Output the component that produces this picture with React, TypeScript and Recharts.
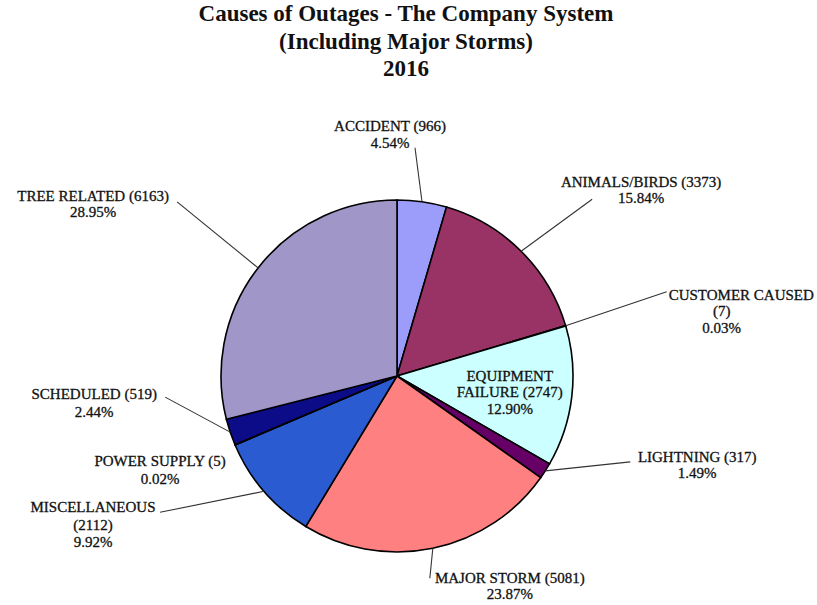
import React from 'react';
import { PieChart, Pie, Cell } from 'recharts';

// ---- data ----
const causes = [
  'ACCIDENT',
  'ANIMALS/BIRDS',
  'CUSTOMER CAUSED',
  'EQUIPMENT FAILURE',
  'LIGHTNING',
  'MAJOR STORM',
  'MISCELLANEOUS',
  'POWER SUPPLY',
  'SCHEDULED',
  'TREE RELATED',
];
const outageCounts = [966, 3373, 7, 2747, 317, 5081, 2112, 5, 519, 6163];
const titleLines = ['Causes of Outages - The Company System', '(Including Major Storms)', '2016'];

// ---- styles ----
const sliceColors = [
  '#9c9cfa', '#993366', '#ffffcc', '#ccffff', '#660066',
  '#ff8080', '#2a5bd0', '#ccccff', '#0c0c88', '#a096c8',
];

// how each label's text is broken into lines
// 'inline': NAME (value) / pct ; 'valueLine': NAME / (value) / pct ; 'splitFirst': WORD1 / REST (value) / pct
const wrapMode = ['inline', 'inline', 'valueLine', 'splitFirst', 'inline', 'inline', 'valueLine', 'inline', 'inline', 'inline'];

// label layout relative to the slice's outer edge point at its mid angle
type Layout = { leader: [number, number] | null; text: [number, number]; gap: number; firstStartDx?: number };
const labelLayout: Layout[] = [
  { leader: [-7, -54], text: [-32, -71], gap: 17 },
  { leader: [71, -52], text: [120, -64], gap: 16 },
  { leader: [101, -34], text: [156, -26], gap: 16.5, firstStartDx: 103 },
  { leader: null, text: [-62, -16], gap: 16.5 },
  { leader: [85, -9], text: [152, -9], gap: 16 },
  { leader: [-3, 30], text: [77, 35], gap: 16 },
  { leader: [-104, 21], text: [-171, 21], gap: 17.5 },
  { leader: null, text: [-75, 21], gap: 18 },
  { leader: [-65, -35], text: [-136, -33], gap: 18 },
  { leader: [-81, -66], text: [-165, -67], gap: 16 },
];

const total = outageCounts.reduce((a, b) => a + b, 0);
const data = causes.map((name, i) => ({ name, value: outageCounts[i] }));

const FONT = '"Liberation Serif", "Times New Roman", serif';
const RAD = Math.PI / 180;

function labelLines(i: number): string[] {
  const name = causes[i];
  const v = outageCounts[i];
  const pct = ((v / total) * 100).toFixed(2) + '%';
  const mode = wrapMode[i];
  if (mode === 'valueLine') return [name, `(${v})`, pct];
  if (mode === 'splitFirst') {
    const [first, ...rest] = name.split(' ');
    return [first, `${rest.join(' ')} (${v})`, pct];
  }
  return [`${name} (${v})`, pct];
}

const renderLabel = (props: any) => {
  const { cx, cy, midAngle, outerRadius, index } = props;
  const ex = cx + outerRadius * Math.cos(-midAngle * RAD);
  const ey = cy + outerRadius * Math.sin(-midAngle * RAD);
  const lay = labelLayout[index];
  const lines = labelLines(index);
  const tx = ex + lay.text[0];
  const ty = ey + lay.text[1];
  return (
    <g key={`lbl-${index}`}>
      {lay.leader && (
        <line
          x1={ex}
          y1={ey}
          x2={ex + lay.leader[0]}
          y2={ey + lay.leader[1]}
          stroke="#333"
          strokeWidth={1.1}
        />
      )}
      {lines.map((ln, k) => {
        const isFirstStart = k === 0 && lay.firstStartDx !== undefined;
        return (
          <text
            key={k}
            x={isFirstStart ? ex + (lay.firstStartDx as number) : tx}
            y={ty + k * lay.gap}
            textAnchor={isFirstStart ? 'start' : 'middle'}
            fontFamily={FONT}
            fontSize={15}
            fill="#111"
            stroke="#111"
            strokeWidth={0.3}
          >
            {ln}
          </text>
        );
      })}
    </g>
  );
};

export default function App() {
  return (
    <div style={{ position: 'absolute', left: 0, top: 0, width: 817, height: 605, background: '#fff' }}>
      <div
        style={{
          position: 'absolute',
          left: 0,
          top: 0,
          width: 812,
          textAlign: 'center',
          fontFamily: FONT,
          fontWeight: 'bold',
          fontSize: 23,
          lineHeight: '27.5px',
          color: '#111',
        }}
      >
        {titleLines.map((t, i) => (
          <div key={i}>{t}</div>
        ))}
      </div>
      <div style={{ position: 'absolute', left: 0, top: 0 }}>
        <PieChart width={817} height={605} margin={{ top: 0, right: 0, bottom: 0, left: 0 }}>
          <Pie
            data={data}
            dataKey="value"
            nameKey="name"
            cx={397}
            cy={376}
            outerRadius={176}
            startAngle={90}
            endAngle={-270}
            stroke="#000"
            strokeWidth={1.6}
            label={renderLabel}
            labelLine={false}
            isAnimationActive={false}
          >
            {data.map((d, i) => (
              <Cell key={d.name} fill={sliceColors[i]} />
            ))}
          </Pie>
        </PieChart>
      </div>
    </div>
  );
}
